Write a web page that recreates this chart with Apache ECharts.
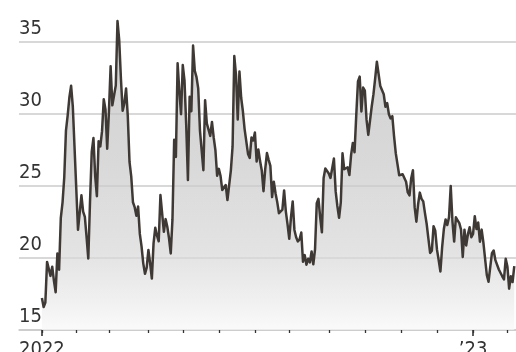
<!DOCTYPE html>
<html>
<head>
<meta charset="utf-8">
<script src="https://cdn.jsdelivr.net/npm/echarts@6/dist/echarts.min.js"></script>
<style>
  html, body { margin: 0; padding: 0; background: #ffffff; }
  #chart { width: 516px; height: 352px; }
</style>
</head>
<body>
<div id="chart"></div>
<script>
// Daily closing values, one array per calendar month (trading days only)
const dec21 = [17.22];
const jan22 = [16.60, 16.91, 19.73, 19.61, 18.76, 19.40, 18.41, 17.62, 20.31, 19.19,
               22.79, 23.85, 25.59, 28.85, 29.90, 31.16, 31.96, 30.49, 27.66, 24.83];
const feb22 = [21.96, 22.09, 24.35, 23.22, 22.86, 21.44, 19.96, 23.91, 27.36, 28.33,
               25.70, 24.29, 28.11, 27.75, 28.81, 31.02, 30.32, 27.59, 30.15];
const mar22 = [33.32, 30.60, 30.48, 31.98, 36.45, 35.13, 32.45, 30.23, 30.75, 31.77,
               29.83, 26.67, 25.67, 23.87, 23.53, 22.94, 23.57, 21.67, 20.81, 19.63,
               18.90, 19.33, 20.56];
const apr22 = [19.63, 18.57, 21.03, 22.10, 21.55, 21.16, 24.37, 24.26, 21.82, 22.70,
               22.17, 21.37, 20.32, 22.68, 28.21, 27.02, 33.52, 31.60, 29.99, 33.40];
const may22 = [32.34, 29.25, 25.42, 31.20, 30.19, 34.75, 32.99, 32.56, 31.77, 28.87,
               27.47, 26.10, 30.96, 29.35, 29.43, 28.48, 29.45, 28.37, 27.50, 25.72,
               26.19];
const jun22 = [25.69, 24.72, 24.79, 25.07, 24.02, 23.96, 26.09, 27.75, 34.02, 32.69,
               29.62, 32.95, 31.13, 30.19, 28.95, 29.05, 27.23, 26.95, 28.36, 28.16,
               28.71];
const jul22 = [26.70, 27.54, 26.73, 26.08, 24.64, 26.17, 27.29, 26.82, 26.40, 24.23,
               25.30, 24.50, 23.88, 23.11, 23.03, 23.36, 24.69, 23.24, 22.33, 21.33];
const aug22 = [22.84, 23.93, 21.95, 21.44, 21.15, 21.29, 21.77, 19.74, 20.20, 19.53,
               19.95, 19.69, 20.45, 19.56, 20.60, 23.80, 24.11, 22.82, 21.78, 25.56,
               26.21, 26.21, 25.87];
const sep22 = [25.56, 25.47, 26.91, 24.64, 23.61, 22.79, 23.87, 27.27, 26.16, 26.27,
               26.30, 25.76, 27.16, 27.99, 27.35, 29.92, 32.26, 32.60, 30.18, 31.84,
               31.62];
const oct22 = [29.59, 28.55, 28.55, 30.52, 31.36, 32.45, 33.63, 33.57, 31.94, 32.02,
               31.37, 30.50, 30.76, 29.98, 29.69, 29.85, 28.46, 27.28, 27.39, 25.75,
               25.88];
const nov22 = [25.81, 25.86, 25.30, 24.55, 24.35, 25.54, 26.09, 23.53, 22.52, 23.73,
               24.54, 24.11, 23.93, 23.12, 22.36, 21.35, 20.35, 20.50, 22.21, 21.89,
               20.58];
const dec22 = [19.84, 19.06, 20.75, 22.01, 22.68, 22.29, 22.83, 25.00, 22.55, 21.14,
               22.83, 22.62, 22.42, 21.97, 20.07, 21.97, 20.87, 21.65, 22.14, 21.44,
               21.67];
const jan23 = [22.90, 22.01, 22.46, 21.13, 21.97, 21.09, 21.09, 18.83, 18.35, 19.36,
               20.34, 20.52, 19.85, 19.81, 19.20, 19.08, 18.73, 18.51, 19.94, 19.40];
const feb23 = [17.87, 18.73, 18.33, 19.43];

const months = [dec21, jan22, feb22, mar22, apr22, may22, jun22, jul22, aug22,
                sep22, oct22, nov22, dec22, jan23, feb23];
// year label shown at the close of each December
const yearLabels = ['2022', '\u201923'];
const yTicks = [15, 20, 25, 30, 35];

// flatten into [tradingDayIndex, value] pairs and note month boundaries
const points = [];
const monthEnds = [];
const yearEnds = [];
months.forEach(function (m, k) {
  m.forEach(function (v) { points.push([points.length, v]); });
  if (k < months.length - 1) {
    monthEnds.push(points.length - 1);
    if (m === dec21 || m === dec22) yearEnds.push(points.length - 1);
  }
});

const FONT = '"Liberation Sans Narrow", "DejaVu Sans Condensed", sans-serif';
const xMin = -13.34;
const xMax = points.length;

const chart = echarts.init(document.getElementById('chart'), null, { renderer: 'canvas' });
chart.setOption({
  animation: false,
  backgroundColor: '#ffffff',
  grid: { left: 19, right: 0, top: -30, bottom: 22, containLabel: false, outerBoundsMode: 'none' },
  xAxis: [
    {
      type: 'value', min: xMin, max: xMax,
      axisLine: { show: true, lineStyle: { color: '#c9c9c9', width: 1.5 } },
      axisTick: { show: true, customValues: monthEnds, length: 3, lineStyle: { color: '#333', width: 1.3 } },
      axisLabel: { show: false },
      splitLine: { show: false }
    },
    {
      type: 'value', min: xMin, max: xMax, position: 'bottom',
      axisLine: { show: false },
      axisTick: { show: true, customValues: yearEnds, length: 6, lineStyle: { color: '#333', width: 1.6 } },
      axisLabel: {
        show: true, customValues: yearEnds, margin: 10,
        fontFamily: FONT, fontSize: 20, color: '#333',
        formatter: function (v) { return yearLabels[yearEnds.indexOf(v)] || ''; }
      },
      splitLine: { show: false }
    }
  ],
  yAxis: {
    type: 'value', min: 15, max: 40, interval: 5,
    axisLine: { show: false },
    axisTick: { show: false },
    axisLabel: {
      inside: true, margin: 0, align: 'left', verticalAlign: 'bottom',
      padding: [0, 0, 3, 0],
      fontFamily: FONT, fontSize: 20, color: '#333',
      formatter: function (v) { return yTicks.indexOf(v) >= 0 ? String(v) : ''; }
    },
    splitLine: { show: true, lineStyle: { color: '#cbcbcb', width: 1.5 } }
  },
  series: [{
    type: 'line',
    xAxisIndex: 0,
    data: points,
    showSymbol: false,
    symbol: 'none',
    lineStyle: { color: '#3f3935', width: 2.5, join: 'round' },
    areaStyle: {
      origin: 'start',
      color: new echarts.graphic.LinearGradient(0, 0, 0, 1, [
        { offset: 0, color: '#bdbdbd' },
        { offset: 0.45, color: '#c8c8c8' },
        { offset: 0.75, color: '#d7d7d7' },
        { offset: 0.9, color: '#e9e9e9' },
        { offset: 1, color: '#f8f8f8' }
      ])
    },
    z: 3
  }]
});
</script>
</body>
</html>
